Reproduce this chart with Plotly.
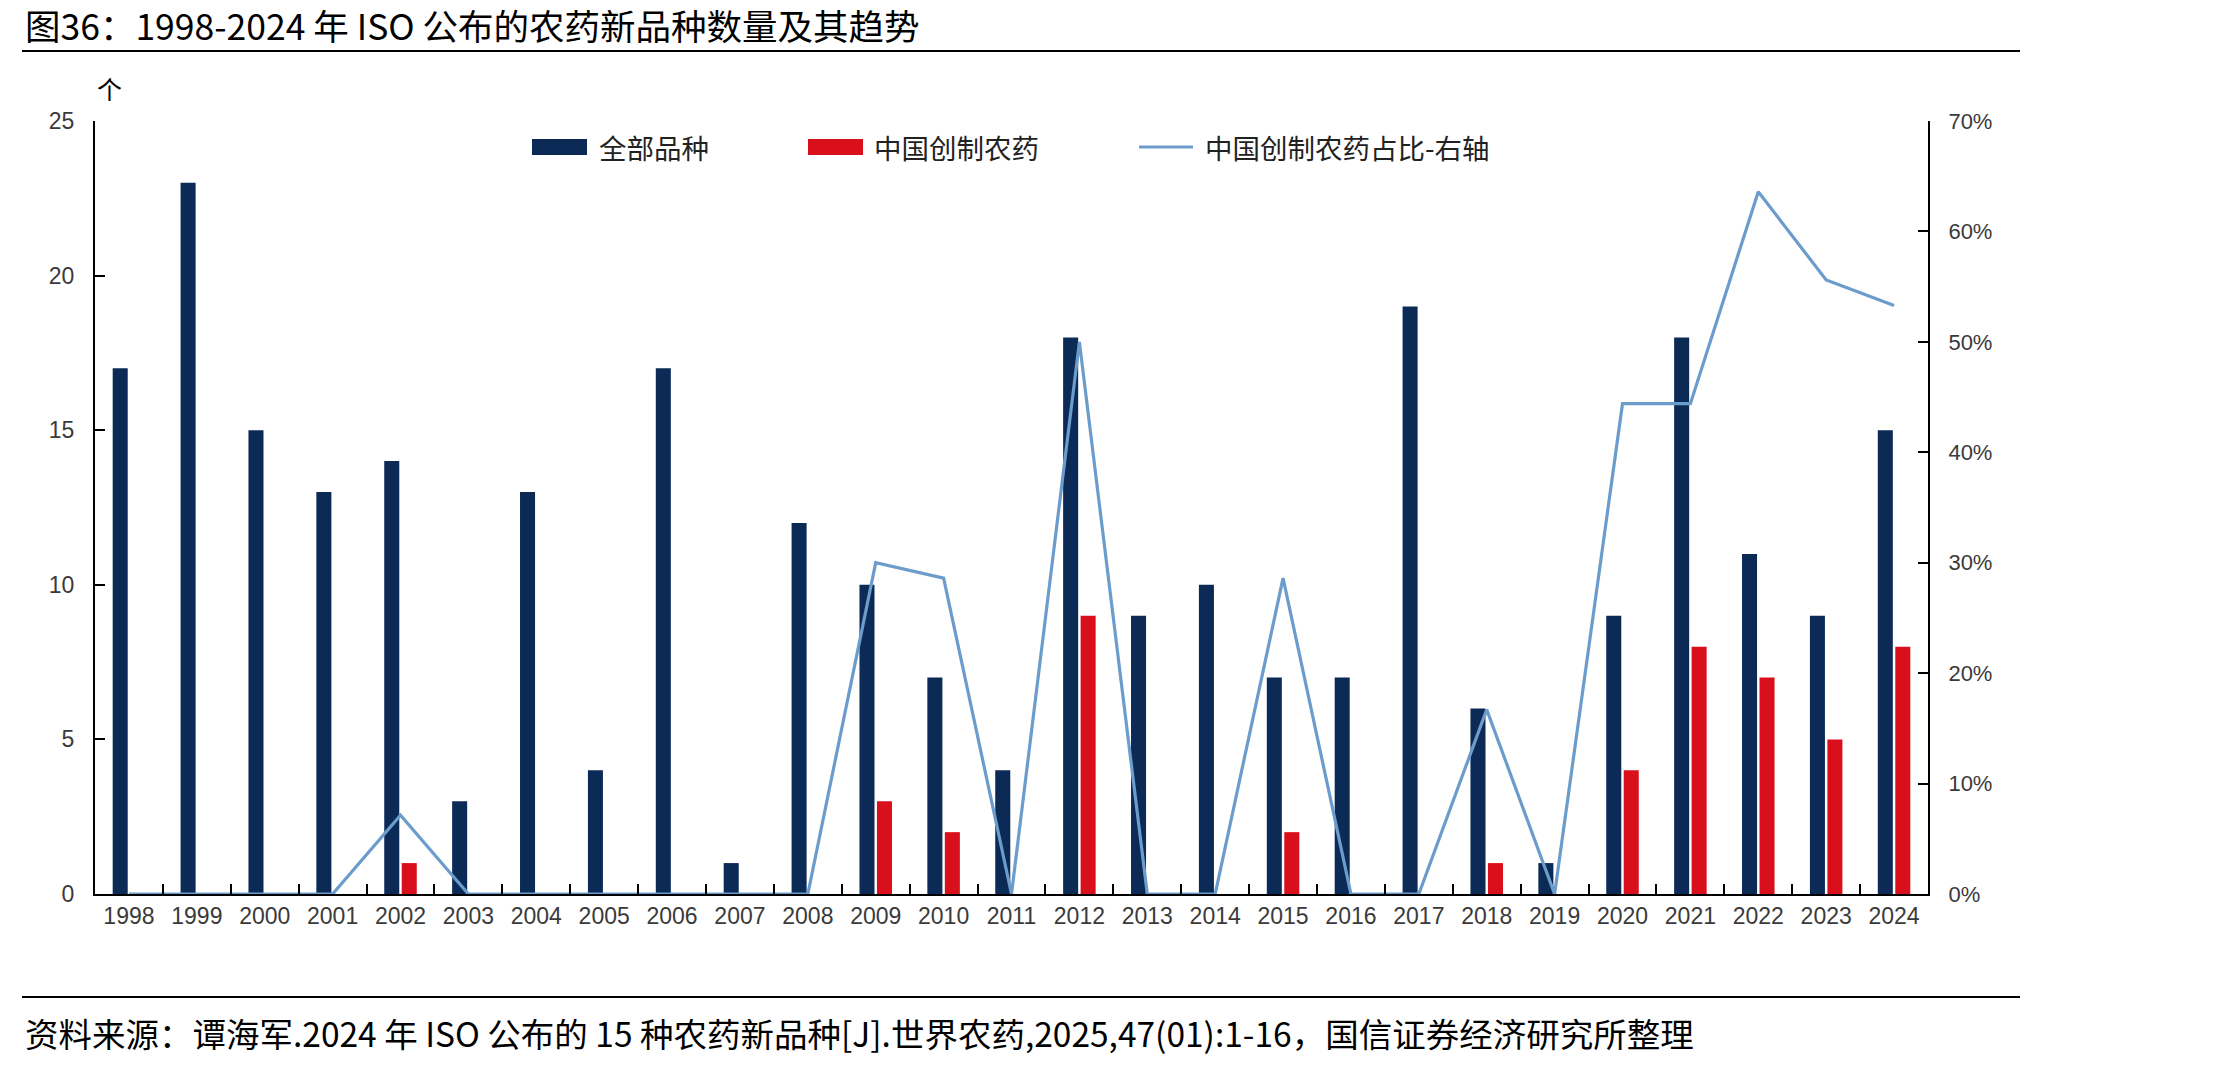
import plotly.graph_objects as go

years = [str(y) for y in range(1998, 2025)]
total_new = [17, 23, 15, 13, 14, 3, 13, 4, 17, 1, 12, 10, 7, 4, 18, 9, 10, 7, 7, 19, 6, 1, 9, 18, 11, 9, 15]
china_new = [0, 0, 0, 0, 1, 0, 0, 0, 0, 0, 0, 3, 2, 0, 9, 0, 0, 2, 0, 0, 1, 0, 4, 8, 7, 5, 8]
china_share = [0, 0, 0, 0, 0.0714, 0, 0, 0, 0, 0, 0, 0.30, 0.286, 0, 0.50, 0, 0, 0.286, 0, 0,
               0.167, 0, 0.444, 0.444, 0.636, 0.556, 0.533]

left_ticks = [0, 5, 10, 15, 20, 25]
right_ticks = [0, 0.1, 0.2, 0.3, 0.4, 0.5, 0.6, 0.7]

title_text = "图36：1998-2024 年 ISO 公布的农药新品种数量及其趋势"
source_text = "资料来源：谭海军.2024 年 ISO 公布的 15 种农药新品种[J].世界农药,2025,47(01):1-16，国信证券经济研究所整理"
legend_names = ["全部品种", "中国创制农药", "中国创制农药占比-右轴"]

NAVY = "#0B2A56"
RED = "#D9101C"
LINE = "#6C9CCB"
CJK = "Noto Sans CJK SC"
TICKF = "Liberation Sans, Arial, sans-serif"

W, H = 2233, 1065
L, R, T, B = 95, 1928, 121, 894


def px(x):
    return (x - L) / (R - L)


def py(y):
    return (B - y) / (B - T)


fig = go.Figure()
fig.add_trace(go.Bar(x=years, y=total_new, name=legend_names[0], marker_color=NAVY,
                     marker_line_width=0, showlegend=False))
fig.add_trace(go.Bar(x=years, y=china_new, name=legend_names[1], marker_color=RED,
                     marker_line_width=0, showlegend=False))
fig.add_trace(go.Scatter(x=years, y=china_share, name=legend_names[2], mode="lines",
                         line=dict(color=LINE, width=3.2), yaxis="y2", showlegend=False))

fig.update_layout(
    width=W, height=H,
    margin=dict(l=L, r=W - R, t=T, b=H - B, pad=0),
    paper_bgcolor="white", plot_bgcolor="white",
    barmode="group", bargap=0.485, bargroupgap=0.14,
    xaxis=dict(type="category", showline=True, linecolor="black", linewidth=2,
               ticks="inside", tickson="boundaries", ticklen=10, tickwidth=2, tickcolor="black",
               showgrid=False, zeroline=False,
               tickfont=dict(family=TICKF, size=23, color="#3a3a3a")),
    yaxis=dict(range=[0, 25], tickvals=left_ticks, showline=True, linecolor="black", linewidth=2,
               ticks="inside", ticklen=10, tickwidth=2, tickcolor="black",
               showgrid=False, zeroline=False, ticklabelstandoff=14,
               tickfont=dict(family=TICKF, size=23, color="#3a3a3a")),
    yaxis2=dict(range=[0, 0.7], tickvals=right_ticks, tickformat=".0%", overlaying="y", side="right",
                showline=True, linecolor="black", linewidth=2,
                ticks="inside", ticklen=10, tickwidth=2, tickcolor="black",
                showgrid=False, zeroline=False, ticklabelstandoff=14,
                tickfont=dict(family=TICKF, size=22, color="#3a3a3a")),
    showlegend=False,
)

shapes = []
annotations = []
# top and bottom rules
shapes.append(dict(type="line", xref="paper", yref="paper", x0=px(22), x1=px(2020), y0=py(51), y1=py(51),
                   line=dict(color="black", width=2)))
shapes.append(dict(type="line", xref="paper", yref="paper", x0=px(22), x1=px(2020), y0=py(997), y1=py(997),
                   line=dict(color="black", width=2)))
# legend
shapes.append(dict(type="rect", xref="paper", yref="paper", x0=px(532), x1=px(587), y0=py(155), y1=py(139),
                   fillcolor=NAVY, line=dict(width=0)))
shapes.append(dict(type="rect", xref="paper", yref="paper", x0=px(808), x1=px(863), y0=py(155), y1=py(139),
                   fillcolor=RED, line=dict(width=0)))
shapes.append(dict(type="line", xref="paper", yref="paper", x0=px(1139), x1=px(1193), y0=py(147), y1=py(147),
                   line=dict(color=LINE, width=3.2)))
for xpos, name in zip([597, 872, 1203], legend_names):
    annotations.append(dict(xref="paper", yref="paper", x=px(xpos), y=py(147), xanchor="left", yanchor="middle",
                            text=name, showarrow=False, font=dict(family=CJK, size=27.5, color="#222222")))

annotations.append(dict(xref="paper", yref="paper", x=px(23), y=py(24), xanchor="left", yanchor="middle",
                        text=title_text, showarrow=False, font=dict(family=CJK, size=35.5, color="black")))
annotations.append(dict(xref="paper", yref="paper", x=px(23), y=py(1032), xanchor="left", yanchor="middle",
                        text=source_text, showarrow=False, font=dict(family=CJK, size=33.5, color="black")))
annotations.append(dict(xref="paper", yref="paper", x=px(109), y=py(88), xanchor="center", yanchor="middle",
                        text="个", showarrow=False, font=dict(family=CJK, size=25, color="black")))

fig.update_layout(shapes=shapes, annotations=annotations)
fig.write_html("out.html")
